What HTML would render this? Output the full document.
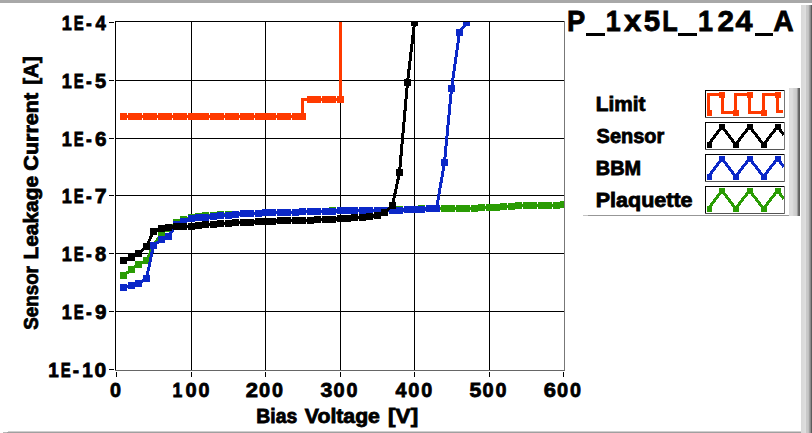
<!DOCTYPE html>
<html><head><meta charset="utf-8"><style>
html,body{margin:0;padding:0;background:#fff;}
body{width:812px;height:433px;overflow:hidden;position:relative;}
svg{display:block;}
text{font-family:"Liberation Sans",sans-serif;font-weight:bold;fill:#000;stroke:#000;stroke-width:0.8px;}
</style></head><body>
<svg width="812" height="433" viewBox="0 0 812 433" shape-rendering="crispEdges">
<defs>
<linearGradient id="rb" x1="0" x2="1" y1="0" y2="0">
<stop offset="0" stop-color="#e0e0e0"/><stop offset="0.45" stop-color="#dcdcdc"/><stop offset="0.5" stop-color="#d2d2d2"/><stop offset="0.72" stop-color="#c8c8c8"/><stop offset="0.82" stop-color="#9a9a9a"/><stop offset="1" stop-color="#505050"/>
</linearGradient>
<linearGradient id="lb" x1="0" x2="1" y1="0" y2="0">
<stop offset="0" stop-color="#dadada"/><stop offset="0.55" stop-color="#d4d4d4"/><stop offset="0.7" stop-color="#c0c0c0"/><stop offset="0.85" stop-color="#8c8c8c"/><stop offset="1" stop-color="#606060"/>
</linearGradient>
<clipPath id="pc"><rect x="116" y="22" width="448" height="348"/></clipPath>
</defs>
<rect x="0" y="0" width="812" height="3" fill="#a8a8a8"/>
<rect x="801" y="5" width="1" height="428" fill="#d9d9d9"/><rect x="802" y="5" width="1" height="428" fill="#dadada"/><rect x="803" y="5" width="1" height="428" fill="#dbdbdb"/><rect x="804" y="5" width="1" height="428" fill="#dcdcdc"/><rect x="805" y="5" width="1" height="428" fill="#dedede"/><rect x="806" y="5" width="1" height="428" fill="#c9c9c9"/><rect x="807" y="5" width="1" height="428" fill="#c8c8c8"/><rect x="808" y="5" width="1" height="428" fill="#c0c0c0"/><rect x="809" y="5" width="1" height="428" fill="#a2a2a2"/><rect x="810" y="5" width="1" height="428" fill="#8a8a8a"/><rect x="811" y="5" width="1" height="428" fill="#5c5c5c"/>
<rect x="8" y="431" width="793" height="1" fill="#cfcfcf"/><rect x="7" y="432" width="794" height="1" fill="#a0a0a0"/><rect x="3" y="432" width="4" height="1" fill="#b8b8b8"/>
<rect x="191" y="21" width="1" height="349" fill="#000"/><rect x="265" y="21" width="1" height="349" fill="#000"/><rect x="340" y="21" width="1" height="349" fill="#000"/><rect x="414" y="21" width="1" height="349" fill="#000"/><rect x="489" y="21" width="1" height="349" fill="#000"/><rect x="115" y="80" width="449" height="1" fill="#000"/><rect x="115" y="138" width="449" height="1" fill="#000"/><rect x="115" y="195" width="449" height="1" fill="#000"/><rect x="115" y="253" width="449" height="1" fill="#000"/><rect x="115" y="311" width="449" height="1" fill="#000"/>
<rect x="115" y="21" width="450" height="1" fill="#000"/>
<rect x="115" y="21" width="1" height="350" fill="#000"/>
<rect x="564" y="21" width="1" height="350" fill="#777"/>
<rect x="115" y="370" width="450" height="1" fill="#666"/>
<rect x="109" y="22" width="5" height="1" fill="#000"/><rect x="109" y="80" width="5" height="1" fill="#000"/><rect x="109" y="138" width="5" height="1" fill="#000"/><rect x="109" y="195" width="5" height="1" fill="#000"/><rect x="109" y="253" width="5" height="1" fill="#000"/><rect x="109" y="311" width="5" height="1" fill="#000"/><rect x="109" y="369" width="5" height="1" fill="#000"/><rect x="116" y="372" width="1" height="5" fill="#000"/><rect x="191" y="372" width="1" height="5" fill="#000"/><rect x="265" y="372" width="1" height="5" fill="#000"/><rect x="340" y="372" width="1" height="5" fill="#000"/><rect x="414" y="372" width="1" height="5" fill="#000"/><rect x="489" y="372" width="1" height="5" fill="#000"/><rect x="563" y="372" width="1" height="5" fill="#000"/>
<g clip-path="url(#pc)" shape-rendering="crispEdges">
<polyline fill="none" stroke="#2a9c04" stroke-width="3" stroke-linejoin="round" points="123.5,275.5 131.5,269.5 138.5,264.5 146.5,260.5 153.5,245.5 161.5,233.5 168.5,228.5 176.5,222.5 183.5,219.5 191.5,217.5 198.5,216.5 205.5,215.5 213.5,215.5 220.5,214.5 228.5,214.5 235.5,214.5 243.5,213.5 250.5,213.5 258.5,213.5 265.5,212.5 272.5,212.5 280.5,212.5 287.5,212.5 295.5,212.5 302.5,211.5 310.5,211.5 317.5,211.5 325.5,211.5 332.5,210.5 340.5,210.5 347.5,210.5 354.5,210.5 362.5,210.5 369.5,210.5 377.5,210.5 384.5,210.5 392.5,209.5 399.5,209.5 407.5,209.5 414.5,209.5 421.5,208.5 429.5,208.5 436.5,208.5 444.5,208.5 451.5,208.5 459.5,208.5 466.5,208.5 474.5,208.5 481.5,207.5 489.5,207.5 496.5,207.5 503.5,206.5 511.5,206.5 518.5,205.5 526.5,205.5 533.5,205.5 541.5,205.5 548.5,205.5 556.5,205.5 563.5,204.5"/><g fill="#2a9c04"><rect x="120" y="272" width="7" height="7"/><rect x="128" y="266" width="7" height="7"/><rect x="135" y="261" width="7" height="7"/><rect x="143" y="257" width="7" height="7"/><rect x="150" y="242" width="7" height="7"/><rect x="158" y="230" width="7" height="7"/><rect x="165" y="225" width="7" height="7"/><rect x="173" y="219" width="7" height="7"/><rect x="180" y="216" width="7" height="7"/><rect x="188" y="214" width="7" height="7"/><rect x="195" y="213" width="7" height="7"/><rect x="202" y="212" width="7" height="7"/><rect x="210" y="212" width="7" height="7"/><rect x="217" y="211" width="7" height="7"/><rect x="225" y="211" width="7" height="7"/><rect x="232" y="211" width="7" height="7"/><rect x="240" y="210" width="7" height="7"/><rect x="247" y="210" width="7" height="7"/><rect x="255" y="210" width="7" height="7"/><rect x="262" y="209" width="7" height="7"/><rect x="269" y="209" width="7" height="7"/><rect x="277" y="209" width="7" height="7"/><rect x="284" y="209" width="7" height="7"/><rect x="292" y="209" width="7" height="7"/><rect x="299" y="208" width="7" height="7"/><rect x="307" y="208" width="7" height="7"/><rect x="314" y="208" width="7" height="7"/><rect x="322" y="208" width="7" height="7"/><rect x="329" y="207" width="7" height="7"/><rect x="337" y="207" width="7" height="7"/><rect x="344" y="207" width="7" height="7"/><rect x="351" y="207" width="7" height="7"/><rect x="359" y="207" width="7" height="7"/><rect x="366" y="207" width="7" height="7"/><rect x="374" y="207" width="7" height="7"/><rect x="381" y="207" width="7" height="7"/><rect x="389" y="206" width="7" height="7"/><rect x="396" y="206" width="7" height="7"/><rect x="404" y="206" width="7" height="7"/><rect x="411" y="206" width="7" height="7"/><rect x="418" y="205" width="7" height="7"/><rect x="426" y="205" width="7" height="7"/><rect x="433" y="205" width="7" height="7"/><rect x="441" y="205" width="7" height="7"/><rect x="448" y="205" width="7" height="7"/><rect x="456" y="205" width="7" height="7"/><rect x="463" y="205" width="7" height="7"/><rect x="471" y="205" width="7" height="7"/><rect x="478" y="204" width="7" height="7"/><rect x="486" y="204" width="7" height="7"/><rect x="493" y="204" width="7" height="7"/><rect x="500" y="203" width="7" height="7"/><rect x="508" y="203" width="7" height="7"/><rect x="515" y="202" width="7" height="7"/><rect x="523" y="202" width="7" height="7"/><rect x="530" y="202" width="7" height="7"/><rect x="538" y="202" width="7" height="7"/><rect x="545" y="202" width="7" height="7"/><rect x="553" y="202" width="7" height="7"/><rect x="560" y="201" width="7" height="7"/></g><polyline fill="none" stroke="#0b28c8" stroke-width="3" stroke-linejoin="round" points="123.5,287.5 131.5,285.5 138.5,283.5 146.5,278.5 153.5,245.5 161.5,239.5 168.5,236.5 176.5,224.5 183.5,221.5 191.5,218.5 198.5,217.5 205.5,217.5 213.5,216.5 220.5,215.5 228.5,215.5 235.5,214.5 243.5,213.5 250.5,213.5 258.5,213.5 265.5,212.5 272.5,212.5 280.5,212.5 287.5,212.5 295.5,212.5 302.5,211.5 310.5,211.5 317.5,211.5 325.5,211.5 332.5,211.5 340.5,210.5 347.5,210.5 354.5,210.5 362.5,210.5 369.5,210.5 377.5,210.5 384.5,210.5 392.5,210.5 399.5,210.5 407.5,209.5 414.5,209.5 421.5,209.5 429.5,208.5 436.5,208.5 444.5,162.5 451.5,88.5 459.5,32.5 466.5,22.5"/><g fill="#0b28c8"><rect x="120" y="284" width="7" height="7"/><rect x="128" y="282" width="7" height="7"/><rect x="135" y="280" width="7" height="7"/><rect x="143" y="275" width="7" height="7"/><rect x="150" y="242" width="7" height="7"/><rect x="158" y="236" width="7" height="7"/><rect x="165" y="233" width="7" height="7"/><rect x="173" y="221" width="7" height="7"/><rect x="180" y="218" width="7" height="7"/><rect x="188" y="215" width="7" height="7"/><rect x="195" y="214" width="7" height="7"/><rect x="202" y="214" width="7" height="7"/><rect x="210" y="213" width="7" height="7"/><rect x="217" y="212" width="7" height="7"/><rect x="225" y="212" width="7" height="7"/><rect x="232" y="211" width="7" height="7"/><rect x="240" y="210" width="7" height="7"/><rect x="247" y="210" width="7" height="7"/><rect x="255" y="210" width="7" height="7"/><rect x="262" y="209" width="7" height="7"/><rect x="269" y="209" width="7" height="7"/><rect x="277" y="209" width="7" height="7"/><rect x="284" y="209" width="7" height="7"/><rect x="292" y="209" width="7" height="7"/><rect x="299" y="208" width="7" height="7"/><rect x="307" y="208" width="7" height="7"/><rect x="314" y="208" width="7" height="7"/><rect x="322" y="208" width="7" height="7"/><rect x="329" y="208" width="7" height="7"/><rect x="337" y="207" width="7" height="7"/><rect x="344" y="207" width="7" height="7"/><rect x="351" y="207" width="7" height="7"/><rect x="359" y="207" width="7" height="7"/><rect x="366" y="207" width="7" height="7"/><rect x="374" y="207" width="7" height="7"/><rect x="381" y="207" width="7" height="7"/><rect x="389" y="207" width="7" height="7"/><rect x="396" y="207" width="7" height="7"/><rect x="404" y="206" width="7" height="7"/><rect x="411" y="206" width="7" height="7"/><rect x="418" y="206" width="7" height="7"/><rect x="426" y="205" width="7" height="7"/><rect x="433" y="205" width="7" height="7"/><rect x="441" y="159" width="7" height="7"/><rect x="448" y="85" width="7" height="7"/><rect x="456" y="29" width="7" height="7"/><rect x="463" y="19" width="7" height="7"/></g><polyline fill="none" stroke="#000000" stroke-width="3" stroke-linejoin="round" points="123.5,260.5 131.5,257.5 138.5,253.5 146.5,246.5 153.5,231.5 161.5,228.5 168.5,227.5 176.5,226.5 183.5,226.5 191.5,226.5 198.5,225.5 205.5,224.5 213.5,224.5 220.5,223.5 228.5,223.5 235.5,222.5 243.5,222.5 250.5,222.5 258.5,221.5 265.5,221.5 272.5,221.5 280.5,220.5 287.5,220.5 295.5,220.5 302.5,220.5 310.5,220.5 317.5,219.5 325.5,219.5 332.5,219.5 340.5,218.5 347.5,218.5 354.5,217.5 362.5,217.5 369.5,216.5 377.5,215.5 384.5,212.5 392.5,205.5 399.5,172.5 407.5,82.5 414.5,22.5"/><g fill="#000000"><rect x="120" y="257" width="7" height="7"/><rect x="128" y="254" width="7" height="7"/><rect x="135" y="250" width="7" height="7"/><rect x="143" y="243" width="7" height="7"/><rect x="150" y="228" width="7" height="7"/><rect x="158" y="225" width="7" height="7"/><rect x="165" y="224" width="7" height="7"/><rect x="173" y="223" width="7" height="7"/><rect x="180" y="223" width="7" height="7"/><rect x="188" y="223" width="7" height="7"/><rect x="195" y="222" width="7" height="7"/><rect x="202" y="221" width="7" height="7"/><rect x="210" y="221" width="7" height="7"/><rect x="217" y="220" width="7" height="7"/><rect x="225" y="220" width="7" height="7"/><rect x="232" y="219" width="7" height="7"/><rect x="240" y="219" width="7" height="7"/><rect x="247" y="219" width="7" height="7"/><rect x="255" y="218" width="7" height="7"/><rect x="262" y="218" width="7" height="7"/><rect x="269" y="218" width="7" height="7"/><rect x="277" y="217" width="7" height="7"/><rect x="284" y="217" width="7" height="7"/><rect x="292" y="217" width="7" height="7"/><rect x="299" y="217" width="7" height="7"/><rect x="307" y="217" width="7" height="7"/><rect x="314" y="216" width="7" height="7"/><rect x="322" y="216" width="7" height="7"/><rect x="329" y="216" width="7" height="7"/><rect x="337" y="215" width="7" height="7"/><rect x="344" y="215" width="7" height="7"/><rect x="351" y="214" width="7" height="7"/><rect x="359" y="214" width="7" height="7"/><rect x="366" y="213" width="7" height="7"/><rect x="374" y="212" width="7" height="7"/><rect x="381" y="209" width="7" height="7"/><rect x="389" y="202" width="7" height="7"/><rect x="396" y="169" width="7" height="7"/><rect x="404" y="79" width="7" height="7"/><rect x="411" y="19" width="7" height="7"/></g><path fill="none" stroke="#ff3a00" stroke-width="3" stroke-linejoin="round" d="M123.5,116.5 L123.5,116.5 L131.5,116.5 L131.5,116.5 L138.5,116.5 L138.5,116.5 L146.5,116.5 L146.5,116.5 L153.5,116.5 L153.5,116.5 L161.5,116.5 L161.5,116.5 L168.5,116.5 L168.5,116.5 L176.5,116.5 L176.5,116.5 L183.5,116.5 L183.5,116.5 L191.5,116.5 L191.5,116.5 L198.5,116.5 L198.5,116.5 L205.5,116.5 L205.5,116.5 L213.5,116.5 L213.5,116.5 L220.5,116.5 L220.5,116.5 L228.5,116.5 L228.5,116.5 L235.5,116.5 L235.5,116.5 L243.5,116.5 L243.5,116.5 L250.5,116.5 L250.5,116.5 L258.5,116.5 L258.5,116.5 L265.5,116.5 L265.5,116.5 L272.5,116.5 L272.5,116.5 L280.5,116.5 L280.5,116.5 L287.5,116.5 L287.5,116.5 L295.5,116.5 L295.5,116.5 L302.5,116.5 L302.5,99.5 L310.5,99.5 L310.5,99.5 L317.5,99.5 L317.5,99.5 L325.5,99.5 L325.5,99.5 L332.5,99.5 L332.5,99.5 L340.5,99.5 L340.5,-49.5 L347.5,-49.5"/><g fill="#ff3a00"><rect x="120" y="113" width="7" height="7"/><rect x="128" y="113" width="7" height="7"/><rect x="135" y="113" width="7" height="7"/><rect x="143" y="113" width="7" height="7"/><rect x="150" y="113" width="7" height="7"/><rect x="158" y="113" width="7" height="7"/><rect x="165" y="113" width="7" height="7"/><rect x="173" y="113" width="7" height="7"/><rect x="180" y="113" width="7" height="7"/><rect x="188" y="113" width="7" height="7"/><rect x="195" y="113" width="7" height="7"/><rect x="202" y="113" width="7" height="7"/><rect x="210" y="113" width="7" height="7"/><rect x="217" y="113" width="7" height="7"/><rect x="225" y="113" width="7" height="7"/><rect x="232" y="113" width="7" height="7"/><rect x="240" y="113" width="7" height="7"/><rect x="247" y="113" width="7" height="7"/><rect x="255" y="113" width="7" height="7"/><rect x="262" y="113" width="7" height="7"/><rect x="269" y="113" width="7" height="7"/><rect x="277" y="113" width="7" height="7"/><rect x="284" y="113" width="7" height="7"/><rect x="292" y="113" width="7" height="7"/><rect x="299" y="113" width="7" height="7"/><rect x="307" y="96" width="7" height="7"/><rect x="314" y="96" width="7" height="7"/><rect x="322" y="96" width="7" height="7"/><rect x="329" y="96" width="7" height="7"/><rect x="337" y="96" width="7" height="7"/></g>
</g>
<g font-size="21" shape-rendering="auto"><text x="61.66" y="30.00" font-size="20.8" textLength="10.04" lengthAdjust="spacingAndGlyphs" stroke-width="1.00">1</text><text x="73.80" y="30.00" font-size="20.8" textLength="9.99" lengthAdjust="spacingAndGlyphs" stroke-width="1.00">E</text><text x="86.12" y="30.00" font-size="20.8" textLength="5.77" lengthAdjust="spacingAndGlyphs" stroke-width="1.00">-</text><text x="95.42" y="30.00" font-size="20.8" textLength="10.38" lengthAdjust="spacingAndGlyphs" stroke-width="1.00">4</text><text x="61.66" y="88.00" font-size="20.8" textLength="10.04" lengthAdjust="spacingAndGlyphs" stroke-width="1.00">1</text><text x="73.80" y="88.00" font-size="20.8" textLength="9.99" lengthAdjust="spacingAndGlyphs" stroke-width="1.00">E</text><text x="86.12" y="88.00" font-size="20.8" textLength="5.77" lengthAdjust="spacingAndGlyphs" stroke-width="1.00">-</text><text x="95.08" y="88.00" font-size="20.8" textLength="11.18" lengthAdjust="spacingAndGlyphs" stroke-width="1.00">5</text><text x="61.66" y="146.00" font-size="20.8" textLength="10.04" lengthAdjust="spacingAndGlyphs" stroke-width="1.00">1</text><text x="73.80" y="146.00" font-size="20.8" textLength="9.99" lengthAdjust="spacingAndGlyphs" stroke-width="1.00">E</text><text x="86.12" y="146.00" font-size="20.8" textLength="5.77" lengthAdjust="spacingAndGlyphs" stroke-width="1.00">-</text><text x="94.94" y="146.00" font-size="20.8" textLength="11.51" lengthAdjust="spacingAndGlyphs" stroke-width="1.00">6</text><text x="61.66" y="203.00" font-size="20.8" textLength="10.04" lengthAdjust="spacingAndGlyphs" stroke-width="1.00">1</text><text x="73.80" y="203.00" font-size="20.8" textLength="9.99" lengthAdjust="spacingAndGlyphs" stroke-width="1.00">E</text><text x="86.12" y="203.00" font-size="20.8" textLength="5.77" lengthAdjust="spacingAndGlyphs" stroke-width="1.00">-</text><text x="94.78" y="203.00" font-size="20.8" textLength="11.85" lengthAdjust="spacingAndGlyphs" stroke-width="1.00">7</text><text x="61.66" y="261.00" font-size="20.8" textLength="10.04" lengthAdjust="spacingAndGlyphs" stroke-width="1.00">1</text><text x="73.80" y="261.00" font-size="20.8" textLength="9.99" lengthAdjust="spacingAndGlyphs" stroke-width="1.00">E</text><text x="86.12" y="261.00" font-size="20.8" textLength="5.77" lengthAdjust="spacingAndGlyphs" stroke-width="1.00">-</text><text x="95.06" y="261.00" font-size="20.8" textLength="11.27" lengthAdjust="spacingAndGlyphs" stroke-width="1.00">8</text><text x="61.66" y="319.00" font-size="20.8" textLength="10.04" lengthAdjust="spacingAndGlyphs" stroke-width="1.00">1</text><text x="73.80" y="319.00" font-size="20.8" textLength="9.99" lengthAdjust="spacingAndGlyphs" stroke-width="1.00">E</text><text x="86.12" y="319.00" font-size="20.8" textLength="5.77" lengthAdjust="spacingAndGlyphs" stroke-width="1.00">-</text><text x="94.98" y="319.00" font-size="20.8" textLength="11.48" lengthAdjust="spacingAndGlyphs" stroke-width="1.00">9</text><text x="48.21" y="377.00" font-size="20.8" textLength="10.52" lengthAdjust="spacingAndGlyphs" stroke-width="1.00">1</text><text x="60.80" y="377.00" font-size="20.8" textLength="9.99" lengthAdjust="spacingAndGlyphs" stroke-width="1.00">E</text><text x="72.66" y="377.00" font-size="20.8" textLength="6.30" lengthAdjust="spacingAndGlyphs" stroke-width="1.00">-</text><text x="82.21" y="377.00" font-size="20.8" textLength="10.52" lengthAdjust="spacingAndGlyphs" stroke-width="1.00">1</text><text x="94.57" y="377.00" font-size="20.8" textLength="11.69" lengthAdjust="spacingAndGlyphs" stroke-width="1.00">0</text><text x="109.92" y="397.00" font-size="20.8" textLength="10.99" lengthAdjust="spacingAndGlyphs" stroke-width="1.00">0</text><text x="172.39" y="397.00" font-size="20.8" textLength="9.80" lengthAdjust="spacingAndGlyphs" stroke-width="1.00">1</text><text x="185.51" y="397.00" font-size="20.8" textLength="11.11" lengthAdjust="spacingAndGlyphs" stroke-width="1.00">0</text><text x="198.52" y="397.00" font-size="20.8" textLength="10.99" lengthAdjust="spacingAndGlyphs" stroke-width="1.00">0</text><text x="245.74" y="397.00" font-size="20.8" textLength="12.24" lengthAdjust="spacingAndGlyphs" stroke-width="1.00">2</text><text x="259.01" y="397.00" font-size="20.8" textLength="11.11" lengthAdjust="spacingAndGlyphs" stroke-width="1.00">0</text><text x="272.02" y="397.00" font-size="20.8" textLength="10.99" lengthAdjust="spacingAndGlyphs" stroke-width="1.00">0</text><text x="320.61" y="397.00" font-size="20.8" textLength="11.86" lengthAdjust="spacingAndGlyphs" stroke-width="1.00">3</text><text x="333.61" y="397.00" font-size="20.8" textLength="11.11" lengthAdjust="spacingAndGlyphs" stroke-width="1.00">0</text><text x="346.62" y="397.00" font-size="20.8" textLength="10.99" lengthAdjust="spacingAndGlyphs" stroke-width="1.00">0</text><text x="395.50" y="397.00" font-size="20.8" textLength="11.01" lengthAdjust="spacingAndGlyphs" stroke-width="1.00">4</text><text x="408.31" y="397.00" font-size="20.8" textLength="11.11" lengthAdjust="spacingAndGlyphs" stroke-width="1.00">0</text><text x="421.32" y="397.00" font-size="20.8" textLength="10.99" lengthAdjust="spacingAndGlyphs" stroke-width="1.00">0</text><text x="469.44" y="397.00" font-size="20.8" textLength="11.85" lengthAdjust="spacingAndGlyphs" stroke-width="1.00">5</text><text x="482.61" y="397.00" font-size="20.8" textLength="11.11" lengthAdjust="spacingAndGlyphs" stroke-width="1.00">0</text><text x="495.62" y="397.00" font-size="20.8" textLength="10.99" lengthAdjust="spacingAndGlyphs" stroke-width="1.00">0</text><text x="543.80" y="397.00" font-size="20.8" textLength="12.20" lengthAdjust="spacingAndGlyphs" stroke-width="1.00">6</text><text x="557.11" y="397.00" font-size="20.8" textLength="11.11" lengthAdjust="spacingAndGlyphs" stroke-width="1.00">0</text><text x="570.12" y="397.00" font-size="20.8" textLength="10.99" lengthAdjust="spacingAndGlyphs" stroke-width="1.00">0</text></g>
<text x="566.92" y="31.00" font-size="30.4" textLength="18.27" lengthAdjust="spacingAndGlyphs" stroke-width="1.10">P</text><rect x="586.4" y="33" width="18.2" height="3" fill="#000"/><text x="605.86" y="31.00" font-size="30.4" textLength="14.94" lengthAdjust="spacingAndGlyphs" stroke-width="1.10">1</text><text x="624.04" y="31.00" font-size="30.4" textLength="17.34" lengthAdjust="spacingAndGlyphs" stroke-width="1.10">x</text><text x="643.64" y="31.00" font-size="30.4" textLength="16.43" lengthAdjust="spacingAndGlyphs" stroke-width="1.10">5</text><text x="662.26" y="31.00" font-size="30.4" textLength="15.47" lengthAdjust="spacingAndGlyphs" stroke-width="1.10">L</text><rect x="678.1" y="33" width="18.6" height="3" fill="#000"/><text x="697.94" y="31.00" font-size="30.4" textLength="15.06" lengthAdjust="spacingAndGlyphs" stroke-width="1.10">1</text><text x="717.62" y="31.00" font-size="30.4" textLength="16.52" lengthAdjust="spacingAndGlyphs" stroke-width="1.10">2</text><text x="735.59" y="31.00" font-size="30.4" textLength="17.03" lengthAdjust="spacingAndGlyphs" stroke-width="1.10">4</text><rect x="754.5" y="33" width="18.2" height="3" fill="#000"/><text x="773.24" y="31.00" font-size="30.4" textLength="20.45" lengthAdjust="spacingAndGlyphs" stroke-width="1.10">A</text>
<g transform="translate(38.3,0) rotate(-90)"><text x="-329.64" y="0.00" font-size="19.5" textLength="63.52" lengthAdjust="spacingAndGlyphs">Sensor</text><text x="-259.50" y="0.00" font-size="19.5" textLength="83.51" lengthAdjust="spacingAndGlyphs">Leakage</text><text x="-170.68" y="0.00" font-size="19.5" textLength="77.75" lengthAdjust="spacingAndGlyphs">Current</text><text x="-84.75" y="0.00" font-size="19.5" textLength="28.51" lengthAdjust="spacingAndGlyphs">[A]</text></g>
<text x="256.31" y="422.50" font-size="19.8" textLength="40.89" lengthAdjust="spacingAndGlyphs">Bias</text><text x="304.86" y="422.50" font-size="19.8" textLength="75.05" lengthAdjust="spacingAndGlyphs">Voltage</text><text x="388.13" y="422.50" font-size="19.8" textLength="30.03" lengthAdjust="spacingAndGlyphs">[V]</text>
<g font-size="20"><text x="595.81" y="110.70" font-size="19.7" textLength="49.64" lengthAdjust="spacingAndGlyphs">Limit</text><rect x="705.5" y="90.5" width="79" height="27" fill="#fff" stroke="#000" stroke-width="1"/><rect x="705" y="90" width="80" height="1" fill="#000"/><rect x="705" y="90" width="1" height="28" fill="#000"/><rect x="705" y="117" width="80" height="1" fill="#555"/><rect x="784" y="90" width="1" height="28" fill="#777"/><svg x="707" y="91" width="77" height="26" viewBox="707 91 77 26" overflow="hidden"><path fill="none" stroke="#ff3a00" stroke-width="3" d="M708.5,114.5 L708.5,112.5 L708.5,94.7 L722.0,94.7 L722.0,112.5 L735.5,112.5 L735.5,94.7 L749.5,94.7 L749.5,112.5 L763.5,112.5 L763.5,94.7 L777.5,94.7 L777.5,111.5 L783,111.5"/><g fill="#ff3a00"><rect x="705.5" y="109.5" width="6" height="6"/><rect x="719.0" y="91.7" width="6" height="6"/><rect x="732.5" y="109.5" width="6" height="6"/><rect x="746.5" y="91.7" width="6" height="6"/><rect x="760.5" y="109.5" width="6" height="6"/><rect x="774.5" y="91.7" width="6" height="6"/></g></svg><text x="596.63" y="142.70" font-size="19.7" textLength="67.58" lengthAdjust="spacingAndGlyphs">Sensor</text><rect x="705.5" y="122.5" width="79" height="27" fill="#fff" stroke="#000" stroke-width="1"/><rect x="705" y="122" width="80" height="1" fill="#000"/><rect x="705" y="122" width="1" height="28" fill="#000"/><rect x="705" y="149" width="80" height="1" fill="#555"/><rect x="784" y="122" width="1" height="28" fill="#777"/><svg x="707" y="123" width="77" height="26" viewBox="707 123 77 26" overflow="hidden"><path fill="none" stroke="#000000" stroke-width="3" d="M708.5,144.5 L722.0,126.7 L735.5,144.5 L749.5,126.7 L763.5,144.5 L777.5,126.7 L784,135.1"/><g fill="#000000"><rect x="705.5" y="141.5" width="6" height="6"/><rect x="719.0" y="123.7" width="6" height="6"/><rect x="732.5" y="141.5" width="6" height="6"/><rect x="746.5" y="123.7" width="6" height="6"/><rect x="760.5" y="141.5" width="6" height="6"/><rect x="774.5" y="123.7" width="6" height="6"/></g></svg><text x="595.87" y="174.70" font-size="19.7" textLength="45.26" lengthAdjust="spacingAndGlyphs">BBM</text><rect x="705.5" y="154.5" width="79" height="27" fill="#fff" stroke="#000" stroke-width="1"/><rect x="705" y="154" width="80" height="1" fill="#000"/><rect x="705" y="154" width="1" height="28" fill="#000"/><rect x="705" y="181" width="80" height="1" fill="#555"/><rect x="784" y="154" width="1" height="28" fill="#777"/><svg x="707" y="155" width="77" height="26" viewBox="707 155 77 26" overflow="hidden"><path fill="none" stroke="#0b28c8" stroke-width="3" d="M708.5,176.5 L722.0,158.7 L735.5,176.5 L749.5,158.7 L763.5,176.5 L777.5,158.7 L784,167.1"/><g fill="#0b28c8"><rect x="705.5" y="173.5" width="6" height="6"/><rect x="719.0" y="155.7" width="6" height="6"/><rect x="732.5" y="173.5" width="6" height="6"/><rect x="746.5" y="155.7" width="6" height="6"/><rect x="760.5" y="173.5" width="6" height="6"/><rect x="774.5" y="155.7" width="6" height="6"/></g></svg><text x="595.76" y="206.70" font-size="19.7" textLength="96.77" lengthAdjust="spacingAndGlyphs">Plaquette</text><rect x="705.5" y="186.5" width="79" height="27" fill="#fff" stroke="#000" stroke-width="1"/><rect x="705" y="186" width="80" height="1" fill="#000"/><rect x="705" y="186" width="1" height="28" fill="#000"/><rect x="705" y="213" width="80" height="1" fill="#555"/><rect x="784" y="186" width="1" height="28" fill="#777"/><svg x="707" y="187" width="77" height="26" viewBox="707 187 77 26" overflow="hidden"><path fill="none" stroke="#2a9c04" stroke-width="3" d="M708.5,208.5 L722.0,190.7 L735.5,208.5 L749.5,190.7 L763.5,208.5 L777.5,190.7 L784,199.1"/><g fill="#2a9c04"><rect x="705.5" y="205.5" width="6" height="6"/><rect x="719.0" y="187.7" width="6" height="6"/><rect x="732.5" y="205.5" width="6" height="6"/><rect x="746.5" y="187.7" width="6" height="6"/><rect x="760.5" y="205.5" width="6" height="6"/><rect x="774.5" y="187.7" width="6" height="6"/></g></svg></g>
<rect x="583" y="215" width="5" height="1" fill="#c4c4c4"/><rect x="588" y="215" width="212" height="1" fill="#979797"/>
<rect x="789" y="88" width="1" height="128" fill="#dcdcdc"/><rect x="790" y="88" width="1" height="128" fill="#dedede"/><rect x="791" y="88" width="1" height="128" fill="#dedede"/><rect x="792" y="88" width="1" height="128" fill="#dcdcdc"/><rect x="793" y="88" width="1" height="128" fill="#d4d4d4"/><rect x="794" y="88" width="1" height="128" fill="#d0d0d0"/><rect x="795" y="88" width="1" height="128" fill="#cdcdcd"/><rect x="796" y="88" width="1" height="128" fill="#c8c8c8"/><rect x="797" y="88" width="1" height="128" fill="#a0a0a0"/><rect x="798" y="88" width="1" height="128" fill="#6c6c6c"/><rect x="799" y="88" width="1" height="128" fill="#606060"/>
</svg>
</body></html>
